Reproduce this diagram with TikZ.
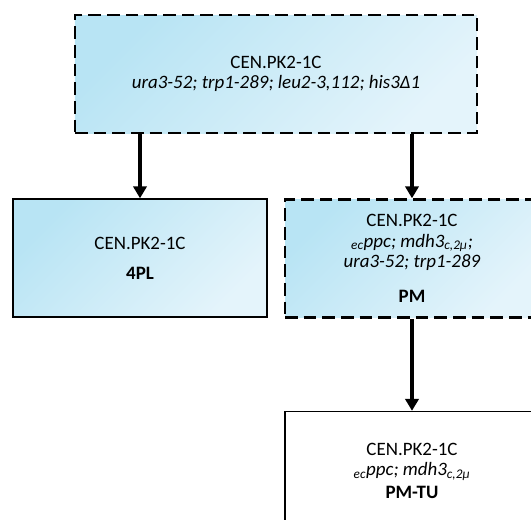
\documentclass[tikz,border=0pt]{standalone}
\usepackage{fontspec}
\setmainfont{Carlito}
\usepackage{tikz}
\usetikzlibrary{positioning, arrows.meta}
\definecolor{cFillTL}{HTML}{B8E4F4}
\definecolor{cFillBR}{HTML}{E4F4FB}
\tikzset{
  block/.style={
    rectangle, minimum width=190.5pt, minimum height=88.5pt,
    align=center, inner sep=0pt, font=\fontsize{14.2}{15.4}\selectfont
  },
  tinted/.style={
    top color=cFillTL, bottom color=cFillBR, shading angle=45
  },
  dashedblock/.style={
    block, tinted, draw=black, line width=1.9pt,
    dash pattern=on 9.5pt off 4.5pt
  },
  solidblock/.style={block, draw=black, line width=1pt},
  arrow/.style={-{Triangle[length=9pt, width=10pt]}, line width=3pt},
}

\begin{document}
\begin{tikzpicture}

  \useasboundingbox (-207pt,55.5pt) rectangle (191.25pt,-333.75pt);
  \clip (-207pt,55.5pt) rectangle (191.25pt,-333.75pt);

  \node[dashedblock, minimum width=301.5pt] (parent) at (0,0)
    {CEN.PK2-1C\\
     \textit{ura3-52; trp1-289; leu2-3,112; his3Δ1}};

  \node[solidblock, tinted, below=48pt of parent, xshift=-102pt] (pl4)
    {CEN.PK2-1C\\[7pt]
     \textbf{4PL}};

  \node[dashedblock, below=48pt of parent, xshift=102pt] (pm)
    {CEN.PK2-1C\\
     \textit{\textsubscript{ec}ppc; mdh3\textsubscript{c,2μ};}\\
     \textit{ura3-52; trp1-289}\\[11pt]
     \textbf{PM}};

  \node[solidblock, fill=white, below=69pt of pm] (pmtu)
    {CEN.PK2-1C\\
     \textit{\textsubscript{ec}ppc; mdh3\textsubscript{c,2μ}}\\[1.5pt]
     \textbf{PM-TU}};

  \draw[arrow] (parent.south -| pl4.north) -- (pl4.north);
  \draw[arrow] (parent.south -| pm.north)  -- (pm.north);
  \draw[arrow] (pm)                        -- (pmtu);

\end{tikzpicture}
\end{document}
